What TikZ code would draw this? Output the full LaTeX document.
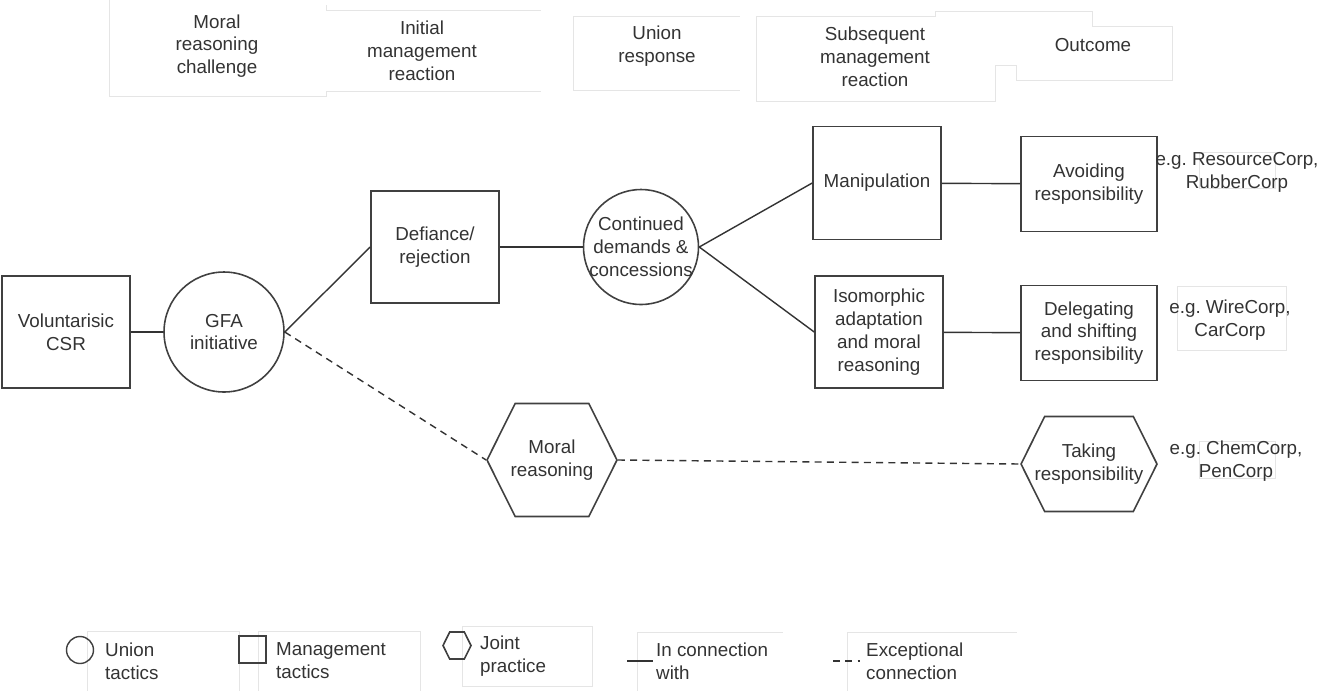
\documentclass[tikz,border=0pt]{standalone}
\usepackage{fontspec}
\setmainfont{Liberation Sans}
\usetikzlibrary{shapes.symbols}

\begin{document}
\begin{tikzpicture}[x=0.02cm, y=-0.02cm,
font=\fontsize{10.7}{13}\selectfont, text=black!80,
tactic/.style={rectangle, draw=black!75, line width=0.9pt, align=center, minimum width=2.56cm, minimum height=2.24cm, inner sep=1pt},
outcomebox/.style={rectangle, draw=black!75, line width=0.9pt, align=center, minimum width=2.72cm, minimum height=1.9cm, inner sep=1pt},
union/.style={circle, draw=black!75, line width=0.9pt, align=center, inner sep=-8pt},
joint/.style={signal, signal to=east and west, signal pointer angle=127, draw=black!75, line width=0.9pt, align=center, inner xsep=-6pt, inner ysep=0pt},
faint/.style={draw=gray!20, line width=0.4pt},
heading/.style={align=center},
keytext/.style={anchor=west, align=left},
link/.style={draw=black!80, line width=0.8pt},
exception/.style={link, dash pattern=on 4pt off 3pt},
]

\useasboundingbox (0,0) rectangle (1323,691);

% text frames
\draw[faint] (109,0) -- (109,96) -- (326,96) -- (326,91) -- (541,91);
\draw[faint] (326,5) -- (326,10) -- (541,10);
\draw[faint] (740,16) -- (573,16) -- (573,90) -- (740,90);
\draw[faint] (756,16) -- (935,16) -- (935,11) -- (1092,11) -- (1092,26) -- (1172,26) -- (1172,80) -- (1016,80) -- (1016,65) -- (995,65) -- (995,101) -- (756,101) -- cycle;
\draw[faint] (1199,152) rectangle (1275,188);
\draw[faint] (1177,286) rectangle (1286,350);
\draw[faint] (1199,441) rectangle (1275,478);
\draw[faint] (87,691) -- (87,631) -- (239,631) -- (239,691);
\draw[faint] (258,691) -- (258,631) -- (420,631) -- (420,691);
\draw[faint] (462,626) rectangle (592,686);
\draw[faint] (637,691) -- (637,632) -- (783,632);
\draw[faint] (847,691) -- (847,632) -- (1017,632);

\node (challenge) [heading] at (217,46) {Moral\\reasoning\\challenge};
\node (initial) [heading] at (422,51) {Initial\\management\\reaction};
\node (response) [heading] at (657,46) {Union\\response};
\node (subsequent) [heading] at (875,57) {Subsequent\\management\\reaction};
\node (outcome) [heading] at (1093,45) {Outcome};

\node (csr) [tactic] at (66,332) {Voluntarisic\\CSR};
\node (gfa) [union, minimum size=2.4cm] at (224,332) {GFA\\initiative};
\node (defiance) [tactic] at (435,247) {Defiance/\\rejection};
\node (demands) [union, minimum size=2.3cm] at (641,247) {Continued\\demands \&\\concessions};
\node (manip) [tactic, minimum height=2.26cm] at (877,183) {Manipulation};
\node (iso) [tactic] at (879,332) {Isomorphic\\adaptation\\and moral\\reasoning};
\node (avoid) [outcomebox] at (1089,184) {Avoiding\\responsibility};
\node (deleg) [outcomebox] at (1089,333) {Delegating\\and shifting\\responsibility};
\node (moral) [joint, minimum width=2.6cm, minimum height=2.26cm] at (552,460) {Moral\\reasoning};
\node (taking) [joint, minimum width=2.72cm, minimum height=1.9cm] at (1089,464) {Taking\\responsibility};

\draw[link] (csr) -- (gfa);
\draw[link] (gfa.east) -- (defiance.west);
\draw[link] (defiance) -- (demands);
\draw[link] (demands.east) -- (manip.west);
\draw[link] (demands.east) -- (iso.west);
\draw[link] (manip) -- (avoid);
\draw[link] (iso) -- (deleg);
\draw[exception] (gfa.east) -- (moral.west);
\draw[exception] (moral.east) -- (taking.west);

\node (egResource) [heading] at (1237,172) {e.g.\ ResourceCorp,\\RubberCorp};
\node (egWire) [heading] at (1230,320) {e.g.\ WireCorp,\\CarCorp};
\node (egChem) [heading] at (1236,461) {e.g.\ ChemCorp,\\PenCorp};

% legend
\node (keyUnion) [union, inner sep=0pt, minimum size=0.54cm, line width=0.8pt] at (80,650) {};
\node (keyTactic) [rectangle, draw=black!75, line width=0.9pt, minimum size=0.54cm, inner sep=0pt] at (252.5,649.5) {};
\node (keyJoint) [joint, inner sep=0pt, minimum width=0.56cm, minimum height=0.54cm] at (457,645.5) {};
\coordinate (solidA) at (627,661);
\coordinate (solidB) at (653,661);
\draw[link] (solidA) -- (solidB);
\coordinate (dashA) at (833,661);
\coordinate (dashB) at (860,661);
\draw[exception] (dashA) -- (dashB);
\node (txtUnion) [keytext] at (99,661) {Union\\tactics};
\node (txtTactic) [keytext] at (270,661) {Management\\tactics};
\node (txtJoint) [keytext] at (474,656) {Joint\\practice};
\node (txtLink) [keytext] at (650,661) {In connection\\with};
\node (txtException) [keytext] at (860,661) {Exceptional\\connection};

\end{tikzpicture}
\end{document}
